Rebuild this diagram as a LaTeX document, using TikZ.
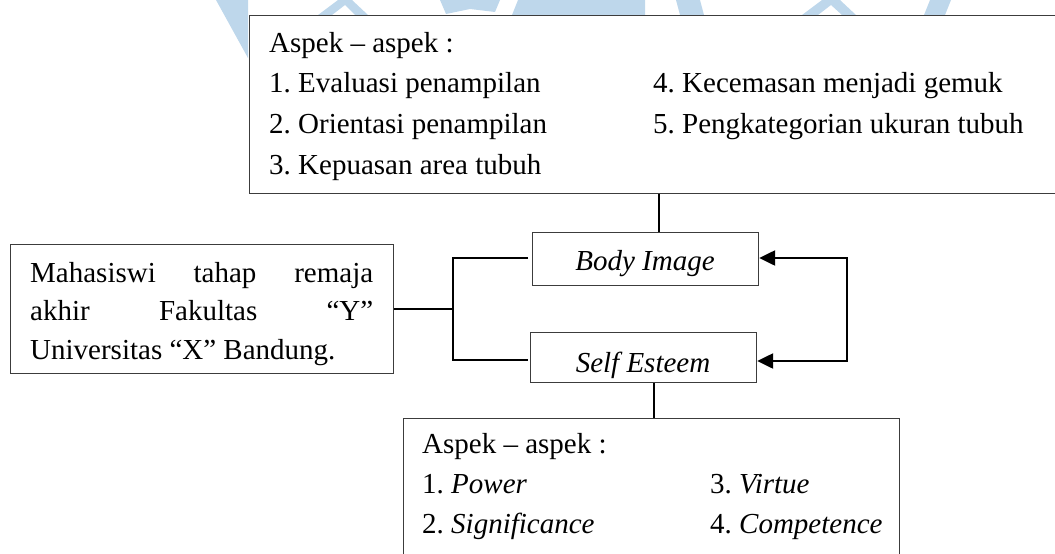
\documentclass[tikz,border=0pt]{standalone}
\usepackage{fontspec}
\setmainfont{Liberation Serif}
\usetikzlibrary{arrows.meta}
\definecolor{wmblue}{RGB}{190,215,235}
\definecolor{boxline}{RGB}{60,60,60}
\frenchspacing
\begin{document}
\frenchspacing
\begin{tikzpicture}[x=1pt,y=-1pt,
  box/.style={draw=boxline, line width=1.2pt, fill=white, inner sep=0pt, anchor=north west},
  txt/.style={anchor=base west, inner sep=0pt, font=\fontsize{29}{40}\selectfont},
  ctxt/.style={anchor=base, inner sep=0pt, font=\fontsize{29}{40}\selectfont\itshape},
  link/.style={line width=2pt},
  thinlink/.style={line width=1.2pt},
  arrowline/.style={line width=2.4pt},
  wm/.style={fill=wmblue, draw=none}]
\useasboundingbox (0,0) rectangle (1055,554);
% boxes
\node[box, minimum width=830pt, minimum height=178pt] (top) at (249,15) {};
\node[box, minimum width=226pt, minimum height=53pt] (bi) at (532,232) {};
\node[box, minimum width=226pt, minimum height=50pt] (se) at (530,332) {};
\node[box, minimum width=383pt, minimum height=129pt] (lb) at (10,244) {};
\node[box, minimum width=496pt, minimum height=170pt] (bb) at (403,418) {};
% faint watermark fragments above the top box
\begin{scope}
\clip (0,0) rectangle (248.3,60);
\fill[wm] (216,0) -- (248,0) -- (248,58) -- cycle;
\end{scope}
\begin{scope}
\clip (249,0) rectangle (1055,14.3);
\fill[wm] (318,15) -- (338,0) -- (352,0) -- (368,15) -- (355,15) -- (345,5) -- (332,15) -- cycle;
\fill[wm] (440,0) -- (500,0) -- (495,12) -- (470,9) -- (446,14) -- cycle;
\fill[wm] (518,0) -- (645,0) -- (645,15) -- (512,15) -- cycle;
\fill[wm] (676,0) -- (700,0) -- (704,15) -- (680,15) -- cycle;
\fill[wm] (802,15) -- (822,0) -- (840,0) -- (856,15) -- (842,15) -- (831,5) -- (818,15) -- cycle;
\fill[wm] (930,0) -- (951,0) -- (945,15) -- (924,15) -- cycle;
\end{scope}
% top box text
\node[txt] (t0) at (269,52) {Aspek – aspek :};
\node[txt] (t1) at (269,92) {1. Evaluasi penampilan};
\node[txt] (t2) at (269,133) {2. Orientasi penampilan};
\node[txt] (t3) at (269,174) {3. Kepuasan area tubuh};
\node[txt] (t4) at (653,92) {4. Kecemasan menjadi gemuk};
\node[txt] (t5) at (653,133) {5. Pengkategorian ukuran tubuh};
% central boxes text
\node[ctxt] (bitxt) at (645,270) {Body Image};
\node[ctxt] (setxt) at (643,372) {Self Esteem};
% left box text
\node[txt] (l1) at (30,282) {\makebox[343pt][s]{Mahasiswi tahap remaja}};
\node[txt] (l2) at (30,320) {\makebox[343pt][s]{akhir Fakultas “Y”}};
\node[txt] (l3) at (30,359) {Universitas “X” Bandung.};
% bottom box text
\node[txt] (b0) at (422,453) {Aspek – aspek :};
\node[txt] (b1) at (422,493) {1. \textit{Power}};
\node[txt] (b2) at (422,533) {2. \textit{Significance}};
\node[txt] (b3) at (710,493) {3. \textit{Virtue}};
\node[txt] (b4) at (710,533) {4. \textit{Competence}};
% connectors
\coordinate (cx1) at (659,0);
\coordinate (cx2) at (654,0);
\draw[thinlink] (top.south -| cx1) -- (bi.north -| cx1);
\draw[thinlink] (se.south -| cx2) -- (bb.north -| cx2);
\coordinate (bru) at (453,258);
\coordinate (brd) at (453,360);
\coordinate (eu) at (528,258);
\coordinate (ed) at (528,360);
\coordinate (mid) at (453,309);
\draw[link] (eu) -- (bru) -- (brd) -- (ed);
\draw[link] (lb.east |- mid) -- (mid);
\coordinate (ar1) at (847,258);
\coordinate (ar2) at (847,361);
\draw[arrowline, line join=miter, {Triangle[length=16pt,width=15pt]}-{Triangle[length=16pt,width=15pt]}] (bi.east |- ar1) -- (ar1) -- (ar2) -- (se.east |- ar2);
\end{tikzpicture}
\end{document}
